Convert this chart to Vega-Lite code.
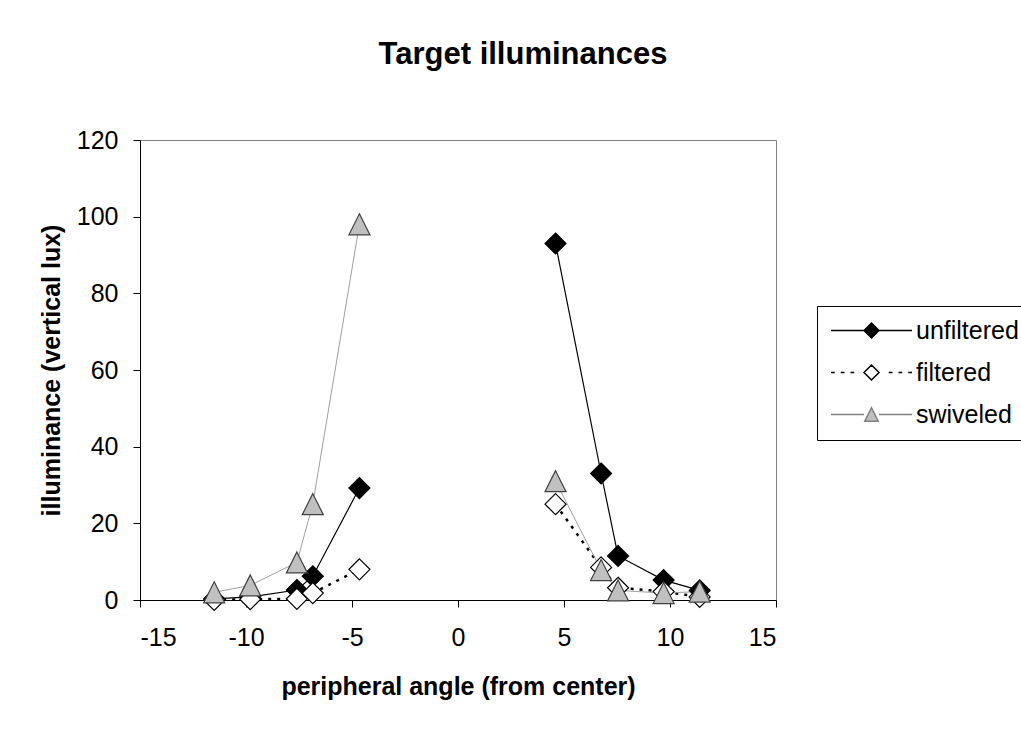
{
  "$schema": "https://vega.github.io/schema/vega-lite/v6.json",
  "width": 636,
  "height": 460,
  "autosize": {"type": "none"},
  "padding": {"left": 140, "top": 140, "right": 245, "bottom": 129},
  "background": "white",
  "title": {
    "text": "Target illuminances",
    "font": "Liberation Sans",
    "fontSize": 31,
    "fontWeight": "bold",
    "color": "black",
    "anchor": "middle",
    "frame": "group",
    "dx": 65,
    "offset": 57
  },
  "config": {
    "view": {"stroke": "#808080", "strokeWidth": 1},
    "font": "Liberation Sans",
    "axis": {
      "labelFont": "Liberation Sans",
      "titleFont": "Liberation Sans",
      "labelColor": "black",
      "titleColor": "black",
      "domainColor": "black",
      "tickColor": "black",
      "grid": false,
      "labelFontSize": 25,
      "titleFontSize": 25,
      "titleFontWeight": "bold",
      "tickSize": 7
    }
  },
  "data": {
    "values": [
      {"series": "unfiltered", "seg": "L", "x": -11.5, "y": 0.3},
      {"series": "unfiltered", "seg": "L", "x": -9.8, "y": 0.8},
      {"series": "unfiltered", "seg": "L", "x": -7.6, "y": 2.6},
      {"series": "unfiltered", "seg": "L", "x": -6.85, "y": 6.2},
      {"series": "unfiltered", "seg": "L", "x": -4.65, "y": 29.2},
      {"series": "unfiltered", "seg": "R", "x": 4.6, "y": 93},
      {"series": "unfiltered", "seg": "R", "x": 6.75, "y": 33},
      {"series": "unfiltered", "seg": "R", "x": 7.55, "y": 11.5},
      {"series": "unfiltered", "seg": "R", "x": 9.7, "y": 5.2},
      {"series": "unfiltered", "seg": "R", "x": 11.4, "y": 2.5},
      {"series": "filtered", "seg": "L", "x": -11.5, "y": 0},
      {"series": "filtered", "seg": "L", "x": -9.8, "y": 0.2},
      {"series": "filtered", "seg": "L", "x": -7.6, "y": 0.3},
      {"series": "filtered", "seg": "L", "x": -6.85, "y": 1.8},
      {"series": "filtered", "seg": "L", "x": -4.65, "y": 8},
      {"series": "filtered", "seg": "R", "x": 4.6, "y": 25},
      {"series": "filtered", "seg": "R", "x": 6.75, "y": 8.5},
      {"series": "filtered", "seg": "R", "x": 7.55, "y": 3.2},
      {"series": "filtered", "seg": "R", "x": 9.7, "y": 2.2},
      {"series": "filtered", "seg": "R", "x": 11.4, "y": 0.8},
      {"series": "swiveled", "seg": "L", "x": -11.5, "y": 2},
      {"series": "swiveled", "seg": "L", "x": -9.8, "y": 3.8},
      {"series": "swiveled", "seg": "L", "x": -7.6, "y": 9.8},
      {"series": "swiveled", "seg": "L", "x": -6.85, "y": 25},
      {"series": "swiveled", "seg": "L", "x": -4.65, "y": 98},
      {"series": "swiveled", "seg": "R", "x": 4.6, "y": 31},
      {"series": "swiveled", "seg": "R", "x": 6.75, "y": 7.8},
      {"series": "swiveled", "seg": "R", "x": 7.55, "y": 2.5},
      {"series": "swiveled", "seg": "R", "x": 9.7, "y": 1.8},
      {"series": "swiveled", "seg": "R", "x": 11.4, "y": 2.2}
    ]
  },
  "encoding": {
    "x": {
      "field": "x",
      "type": "quantitative",
      "scale": {"domain": [-15, 15], "nice": false, "zero": false},
      "axis": {
        "values": [-15, -10, -5, 0, 5, 10, 15],
        "labelExpr": "toString(datum.value)",
        "title": "peripheral angle (from center)",
        "labelPadding": 18,
        "titlePadding": 24
      }
    },
    "y": {
      "field": "y",
      "type": "quantitative",
      "scale": {"domain": [0, 120], "nice": false},
      "axis": {
        "values": [0, 20, 40, 60, 80, 100, 120],
        "labelExpr": "toString(datum.value)",
        "title": "illuminance (vertical lux)",
        "labelPadding": 15,
        "titlePadding": 12
      }
    }
  },
  "layer": [
    {
      "transform": [{"filter": "datum.series === 'unfiltered'"}],
      "mark": {"type": "line", "clip": false, "stroke": "black", "strokeWidth": 1.2},
      "encoding": {"detail": {"field": "seg"}}
    },
    {
      "transform": [{"filter": "datum.series === 'filtered'"}],
      "mark": {"type": "line", "clip": false, "stroke": "black", "strokeWidth": 2.5, "strokeDash": [3, 6]},
      "encoding": {"detail": {"field": "seg"}}
    },
    {
      "transform": [{"filter": "datum.series === 'swiveled'"}],
      "mark": {"type": "line", "clip": false, "stroke": "#a0a0a0", "strokeWidth": 1},
      "encoding": {"detail": {"field": "seg"}}
    },
    {
      "transform": [{"filter": "datum.series === 'unfiltered'"}],
      "mark": {"type": "point", "shape": "M0,-1L1,0L0,1L-1,0Z", "filled": true, "fill": "black", "stroke": "black", "opacity": 1, "size": 441, "strokeWidth": 1.2, "clip": false}
    },
    {
      "transform": [{"filter": "datum.series === 'filtered'"}],
      "mark": {"type": "point", "shape": "M0,-1L1,0L0,1L-1,0Z", "filled": true, "fill": "white", "stroke": "black", "opacity": 1, "size": 441, "strokeWidth": 1.2, "clip": false}
    },
    {
      "transform": [{"filter": "datum.series === 'swiveled'"}],
      "mark": {"type": "point", "shape": "M0,-1L1,1L-1,1Z", "filled": true, "fill": "#c0c0c0", "stroke": "#404040", "opacity": 1, "size": 441, "strokeWidth": 1.2, "clip": false}
    },
    {
      "mark": {"type": "point", "filled": true, "opacity": 0, "size": 225, "clip": false},
      "encoding": {
        "shape": {
          "field": "series",
          "type": "nominal",
          "scale": {
            "domain": ["unfiltered", "filtered", "swiveled"],
            "range": [
              "M-5.4,0H-1M1,0H5.4M0,-1L1,0L0,1L-1,0Z",
              "M-5.4,0H-4.9M-4.1,0H-3.6M-2.8,0H-2.3M2.3,0H2.8M3.6,0H4.1M4.9,0H5.4M0,-1L1,0L0,1L-1,0Z",
              "M-5.4,0H-1M1,0H5.4M0,-0.9L0.9,0.9L-0.9,0.9Z"
            ]
          },
          "legend": {
            "title": null,
            "orient": "none",
            "legendX": 677,
            "legendY": 166,
            "direction": "vertical",
            "padding": 12,
            "strokeColor": "black",
            "fillColor": "white",
            "labelFont": "Liberation Sans",
            "labelFontSize": 25,
            "labelColor": "black",
            "labelOffset": 32,
            "symbolOffset": 30,
            "rowPadding": 16,
            "symbolSize": 225,
            "symbolOpacity": 1,
            "symbolStrokeWidth": 1.5
          }
        },
        "fill": {
          "field": "series",
          "type": "nominal",
          "scale": {"domain": ["unfiltered", "filtered", "swiveled"], "range": ["black", "white", "#c0c0c0"]}
        },
        "stroke": {
          "field": "series",
          "type": "nominal",
          "scale": {"domain": ["unfiltered", "filtered", "swiveled"], "range": ["black", "black", "#808080"]}
        }
      }
    }
  ]
}
